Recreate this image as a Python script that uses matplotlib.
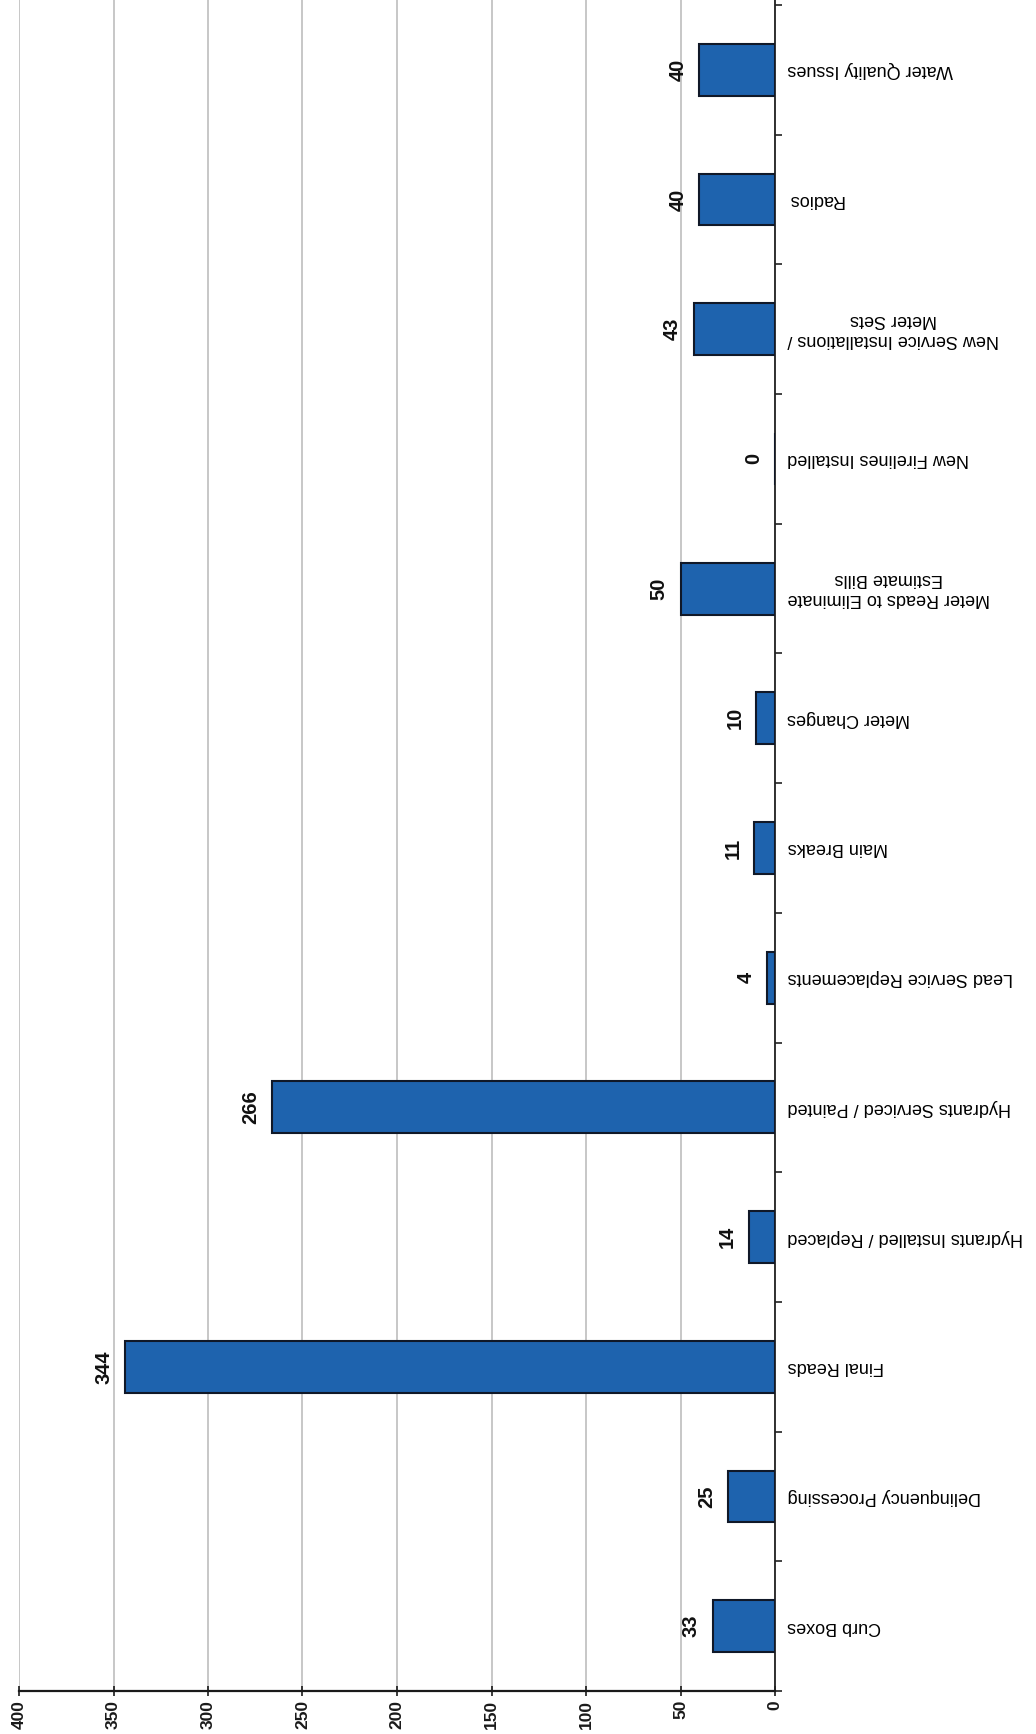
import matplotlib
matplotlib.use("Agg")
import matplotlib.pyplot as plt
import numpy as np

categories = [
    "Curb Boxes",
    "Delinquency Processing",
    "Final Reads",
    "Hydrants Installed / Replaced",
    "Hydrants Serviced / Painted",
    "Lead Service Replacements",
    "Main Breaks",
    "Meter Changes",
    "Meter Reads to Eliminate\nEstimate Bills",
    "New Firelines Installed",
    "New Service Installations /\nMeter Sets",
    "Radios",
    "Water Quality Issues",
]
values = [33, 25, 344, 14, 266, 4, 11, 10, 50, 0, 43, 40, 40]
value_ticks = [0, 50, 100, 150, 200, 250, 300, 350, 400]

plt.rcParams['font.family'] = ['Liberation Sans', 'DejaVu Sans']

W, H = 1036, 1734
fig = plt.figure(figsize=(W / 100, H / 100), dpi=100)
left_px, right_px = 19, 775
bottom_px, top_px = 1691, 0
ax = fig.add_axes([left_px / W, (H - bottom_px) / H,
                   (right_px - left_px) / W, (bottom_px - top_px) / H])

n = len(categories)
y = np.arange(n)
ax.barh(y, values, height=0.4, color='#1E63AE', edgecolor='#101828',
        linewidth=1.5, zorder=3)

ax.set_xlim(400, 0)
ax.set_ylim(-0.5, n - 0.5 + 5 / 129.7)

ax.set_xticks(value_ticks)
ax.set_xticklabels([str(v) for v in value_ticks], rotation=90,
                   fontweight='bold', fontsize=12.5)
ax.tick_params(axis='x', direction='inout', length=7, width=1.2,
               pad=3, colors='#1a1a1a')
ax.xaxis.grid(True, color='#b8b8b8', linewidth=1.1, zorder=0)

ax.yaxis.tick_right()
ax.set_yticks(np.arange(-0.5, n, 1.0))
ax.set_yticklabels([])
ax.tick_params(axis='y', direction='out', length=5, width=1.2,
               colors='#222222')

for s in ['top', 'left']:
    ax.spines[s].set_visible(False)
ax.spines['right'].set_linewidth(1.3)
ax.spines['bottom'].set_linewidth(1.6)
ax.spines['right'].set_color('#222222')
ax.spines['bottom'].set_color('#1a1a1a')

for yi, (cat, v) in enumerate(zip(categories, values)):
    ax.annotate(cat, xy=(1.0, yi), xycoords=('axes fraction', 'data'),
                xytext=(9, 0), textcoords='offset points',
                rotation=180, ha='left', va='center',
                multialignment='center', fontsize=13, color='#000000')
    ax.annotate(str(v), xy=(v, yi), xycoords='data',
                xytext=(-8.5, 0), textcoords='offset points',
                rotation=90, ha='right', va='center',
                fontsize=14.5, fontweight='bold', color='#111111')

fig.savefig('out.png', dpi=100)
